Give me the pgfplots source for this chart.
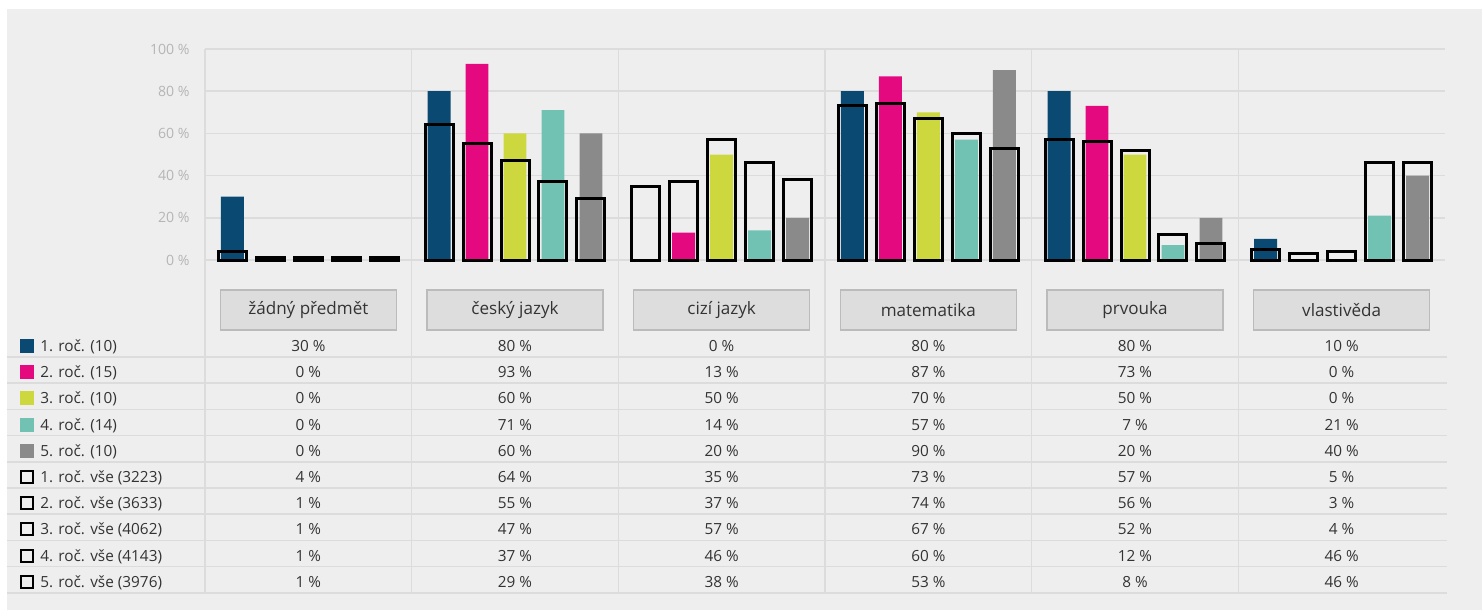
\documentclass[border=0pt]{standalone}
\usepackage{fontspec}
\setmainfont{Open Sans}
\usepackage{pgfplots}
\pgfplotsset{compat=1.18}
\definecolor{bg}{HTML}{EEEEEE}
\definecolor{gridc}{HTML}{DCDCDC}
\definecolor{cA}{HTML}{0A4A72}
\definecolor{cB}{HTML}{E4097E}
\definecolor{cC}{HTML}{CDD83F}
\definecolor{cD}{HTML}{72C2B3}
\definecolor{cE}{HTML}{8A8A8A}
\definecolor{boxf}{HTML}{DDDDDD}
\definecolor{boxd}{HTML}{BBBBBB}
\definecolor{tickc}{HTML}{B5B5B5}
\definecolor{txt}{HTML}{333333}

\begin{document}
\begin{tikzpicture}
\begin{scope}[x=0.75pt,y=-0.75pt]
\path[use as bounding box] (0,0) rectangle (1482,610);
\fill[white] (0,0) rectangle (1482,610);
\fill[bg] (7,9) rectangle (1482,610);
\foreach \i in {0,...,5} \draw[gridc, line width=1.1pt] ({205+206.667*\i},49) -- ({205+206.667*\i},593);
\foreach \k in {0,...,9} \draw[gridc, line width=1.1pt] (7,{357+26.2*\k}) -- (1447,{357+26.2*\k});
\end{scope}
\begin{axis}[at={(153.75pt,-195pt)}, anchor=south west, scale only axis,
  width=930pt, height=158.25pt,
  xmin=-0.5, xmax=5.5, ymin=0, ymax=100,
  axis line style={draw=none}, xtick=\empty, ytick={0,20,...,100},
  major tick length=0pt, ymajorgrids, grid style={gridc, line width=1.1pt},
  yticklabel={\pgfmathprintnumber{\tick}~\%},
  yticklabel style={text=tickc, font=\fontsize{10.6}{12}\selectfont, xshift=-8pt},
  /pgf/number format/assume math mode=true, clip=false]
% colored bars: 1.-5. roc
\addplot[ybar, fill=cA, draw=none, bar width=0.111, bar shift=-0.3676] coordinates {(0,30)(1,80)(2,0)(3,80)(4,80)(5,10)};
\addplot[ybar, fill=cB, draw=none, bar width=0.111, bar shift=-0.1838] coordinates {(0,0)(1,93)(2,13)(3,87)(4,73)(5,0)};
\addplot[ybar, fill=cC, draw=none, bar width=0.111, bar shift=0] coordinates {(0,0)(1,60)(2,50)(3,70)(4,50)(5,0)};
\addplot[ybar, fill=cD, draw=none, bar width=0.111, bar shift=0.1838] coordinates {(0,0)(1,71)(2,14)(3,57)(4,7)(5,21)};
\addplot[ybar, fill=cE, draw=none, bar width=0.111, bar shift=0.3676] coordinates {(0,0)(1,60)(2,20)(3,90)(4,20)(5,40)};
% outline bars: all schools
\addplot[ybar, fill=none, draw=black, line width=2.25pt, bar width=0.1355, bar shift=-0.3676] coordinates {(0,4)(1,64)(2,35)(3,73)(4,57)(5,5)};
\addplot[ybar, fill=none, draw=black, line width=2.25pt, bar width=0.1355, bar shift=-0.1838] coordinates {(0,1)(1,55)(2,37)(3,74)(4,56)(5,3)};
\addplot[ybar, fill=none, draw=black, line width=2.25pt, bar width=0.1355, bar shift=0] coordinates {(0,1)(1,47)(2,57)(3,67)(4,52)(5,4)};
\addplot[ybar, fill=none, draw=black, line width=2.25pt, bar width=0.1355, bar shift=0.1838] coordinates {(0,1)(1,37)(2,46)(3,60)(4,12)(5,46)};
\addplot[ybar, fill=none, draw=black, line width=2.25pt, bar width=0.1355, bar shift=0.3676] coordinates {(0,1)(1,29)(2,38)(3,53)(4,8)(5,46)};
\end{axis}
\begin{scope}[x=0.75pt,y=-0.75pt]
% category boxes
\foreach \name [count=\c from 0] in {žádný předmět, český jazyk, cizí jazyk, matematika, prvouka, vlastivěda}
  \node[fill=boxf, draw=boxd, line width=0.9pt, minimum width=132pt, minimum height=30pt, inner sep=0pt,
        text=txt, font=\fontsize{12.8}{14}\selectfont] at ({205+206.667*(\c+0.5)},310) {\name};
% legend column
\foreach \col/\lab [count=\r from 0] in {cA/1. roč. (10), cB/2. roč. (15), cC/3. roč. (10), cD/4. roč. (14), cE/5. roč. (10)} {
  \fill[\col] (20,{346+26.2*\r-7}) rectangle (34,{346+26.2*\r+7});
  \node[anchor=base west, inner sep=0pt, text=txt, font=\fontsize{11.5}{13}\selectfont] at (40,{351.5+26.2*\r}) {\lab};
}
\foreach \lab [count=\r from 5] in {1. roč. vše (3223), 2. roč. vše (3633), 3. roč. vše (4062), 4. roč. vše (4143), 5. roč. vše (3976)} {
  \draw[black, line width=1.5pt] (21,{346+26.2*\r-6}) rectangle (33,{346+26.2*\r+6});
  \node[anchor=base west, inner sep=0pt, text=txt, font=\fontsize{11.5}{13}\selectfont] at (40,{351.5+26.2*\r}) {\lab};
}
% values
\foreach \r/\vals in {0/{30,80,0,80,80,10}, 1/{0,93,13,87,73,0}, 2/{0,60,50,70,50,0}, 3/{0,71,14,57,7,21}, 4/{0,60,20,90,20,40},
  5/{4,64,35,73,57,5}, 6/{1,55,37,74,56,3}, 7/{1,47,57,67,52,4}, 8/{1,37,46,60,12,46}, 9/{1,29,38,53,8,46}} {
  \foreach \v [count=\c from 0] in \vals
    \node[anchor=base, inner sep=0pt, text=txt, font=\fontsize{11.5}{13}\selectfont] at ({205+206.667*(\c+0.5)},{351.5+26.2*\r}) {\v~\%};
}
\end{scope}
\end{tikzpicture}
\end{document}
